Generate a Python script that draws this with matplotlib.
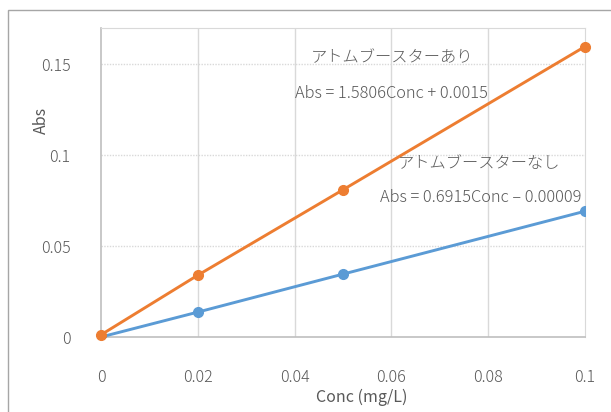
import matplotlib
matplotlib.use("Agg")
import matplotlib.pyplot as plt
from matplotlib.patches import Rectangle

plt.rcParams['font.family'] = ['Noto Sans CJK JP', 'DejaVu Sans']
plt.rcParams['font.weight'] = 'light'

conc = [0, 0.02, 0.05, 0.1]
abs_with = [0.0012, 0.034, 0.081, 0.1598]
abs_without = [0.0, 0.0137, 0.0346, 0.0692]

label_with = "アトムブースターあり"
eq_with = "Abs = 1.5806Conc + 0.0015"
label_without = "アトムブースターなし"
eq_without = "Abs = 0.6915Conc – 0.00009"

x_ticks = [0, 0.02, 0.04, 0.06, 0.08, 0.1]
x_tick_labels = ["0", "0.02", "0.04", "0.06", "0.08", "0.1"]
y_ticks = [0, 0.05, 0.1, 0.15]
y_tick_labels = ["0", "0.05", "0.1", "0.15"]

text_col = "#595959"
orange = "#ED7D31"
blue = "#5B9BD5"

fig = plt.figure(figsize=(6.11, 4.12), dpi=100)
fig.patches.append(Rectangle((8 / 611, -0.1), 1.2, 1 - 10 / 412 + 0.1,
                             transform=fig.transFigure, fill=False,
                             edgecolor="#a6a6a6", lw=1.0))

ax = fig.add_axes([101 / 611, 75 / 412, 484 / 611, 309 / 412])
ax.set_xlim(0, 0.1)
ax.set_ylim(0, 0.17)

ax.plot(conc, abs_without, color=blue, lw=2.1, marker="o", ms=7, zorder=3)
ax.plot(conc, abs_with, color=orange, lw=2.1, marker="o", ms=7, zorder=3,
        clip_on=False)

for xv in x_ticks[1:-1]:
    ax.axvline(xv, color="#d9d9d9", lw=1.0, zorder=1)
for yv in y_ticks[1:]:
    ax.axhline(yv, color="#d9d9d9", lw=1.0, ls=(0, (1, 1)), zorder=1)

for side in ["top", "right"]:
    ax.spines[side].set_color("#d9d9d9")
for side in ["left", "bottom"]:
    ax.spines[side].set_color("#bfbfbf")
    ax.spines[side].set_linewidth(1.2)

ax.set_xticks(x_ticks)
ax.set_xticklabels(x_tick_labels)
ax.set_yticks(y_ticks)
ax.set_yticklabels(y_tick_labels)
ax.tick_params(axis="both", length=0, labelsize=11.5, labelcolor=text_col)
ax.tick_params(axis="x", pad=23)
ax.tick_params(axis="y", pad=22)

ax.set_xlabel("Conc (mg/L)", fontsize=11.5, color=text_col, va="center")
ax.xaxis.set_label_coords(0.539, -0.194)
ax.set_ylabel("Abs", fontsize=11.5, color=text_col)
ax.yaxis.set_label_coords(-0.105, 0.70)

ax.text(0.0601, 0.1535, label_with, fontsize=11.7, color=text_col, ha="center", va="center")
ax.text(0.0601, 0.1340, eq_with, fontsize=11.8, color=text_col, ha="center", va="center")
ax.text(0.0782, 0.0955, label_without, fontsize=11.7, color=text_col, ha="center", va="center")
ax.text(0.0784, 0.0765, eq_without, fontsize=11.8, color=text_col, ha="center", va="center")

fig.savefig("out.png", dpi=100)
